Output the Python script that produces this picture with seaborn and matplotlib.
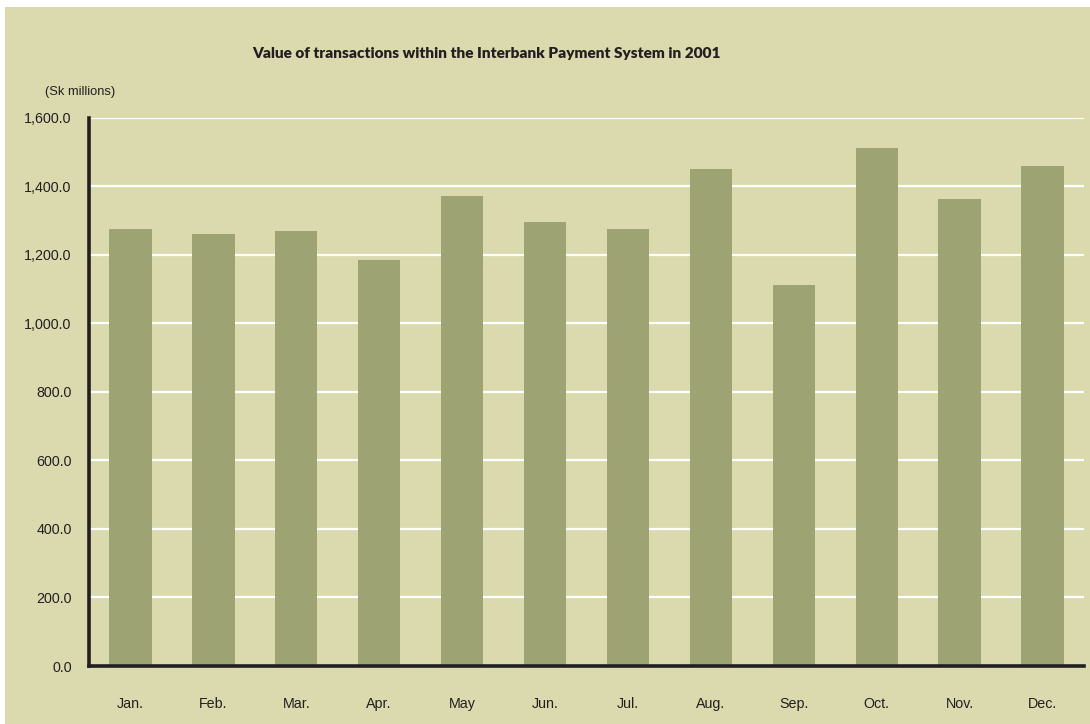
import matplotlib
matplotlib.use("Agg")
import matplotlib.pyplot as plt
import seaborn as sns
import pandas as pd
from matplotlib.patches import Rectangle
from matplotlib.ticker import FuncFormatter

months = ["Jan.", "Feb.", "Mar.", "Apr.", "May", "Jun.", "Jul.", "Aug.", "Sep.", "Oct.", "Nov.", "Dec."]
values = [1276, 1261, 1270, 1186, 1372, 1297, 1276, 1450, 1111, 1512, 1363, 1459]
yticks = [0, 200, 400, 600, 800, 1000, 1200, 1400, 1600]

BG = "#dadaae"
BAR = "#9ea373"

sns.set_theme(style="white")
plt.rcParams['font.family'] = ['Liberation Sans', 'DejaVu Sans']

df = pd.DataFrame({"month": months, "value": values})

fig = plt.figure(figsize=(10.9, 7.24), dpi=100, facecolor="white")
fig.patches.append(Rectangle((5 / 1090, 0), 1 - 5 / 1090, 1 - 7 / 724,
                             transform=fig.transFigure, facecolor=BG,
                             edgecolor="none", zorder=-10))
ax = fig.add_axes([89 / 1090, 1 - 666 / 724, (1084 - 89) / 1090, (666 - 117.7) / 724])
ax.set_facecolor(BG)

sns.barplot(data=df, x="month", y="value", color=BAR, width=0.51,
            saturation=1, ax=ax, zorder=3)
for p in ax.patches:
    p.set_edgecolor("none")

ax.set_ylim(0, 1600)
ax.set_xlim(-0.5, 11.5)
ax.set_yticks(yticks)
ax.yaxis.set_major_formatter(FuncFormatter(lambda v, _: f"{v:,.1f}"))
ax.grid(axis="y", color="white", linewidth=1.6, zorder=1)
ax.grid(axis="x", visible=False)
ax.set_axisbelow(True)

for s in ["top", "right"]:
    ax.spines[s].set_visible(False)
for s in ["left", "bottom"]:
    ax.spines[s].set_color("#231f20")
    ax.spines[s].set_linewidth(2.6)
    ax.spines[s].set_zorder(5)

ax.tick_params(axis="both", length=0, labelsize=10.3, colors="#231f20")
ax.tick_params(axis="y", pad=12.5)
ax.tick_params(axis="x", pad=22)
ax.set_xlabel("")
ax.set_ylabel("")

fig.text(486 / 1090, 1 - 54 / 724, "Value of transactions within the Interbank Payment System in 2001",
         ha="center", va="center", fontsize=11.1, fontweight="heavy", color="#231f20",
         family=["Lato", "Liberation Sans", "DejaVu Sans"])
fig.text(45 / 1090, 1 - 92 / 724, "(Sk millions)", ha="left", va="center",
         fontsize=9.3, color="#231f20")

fig.savefig("out.png", dpi=100, facecolor="white")
